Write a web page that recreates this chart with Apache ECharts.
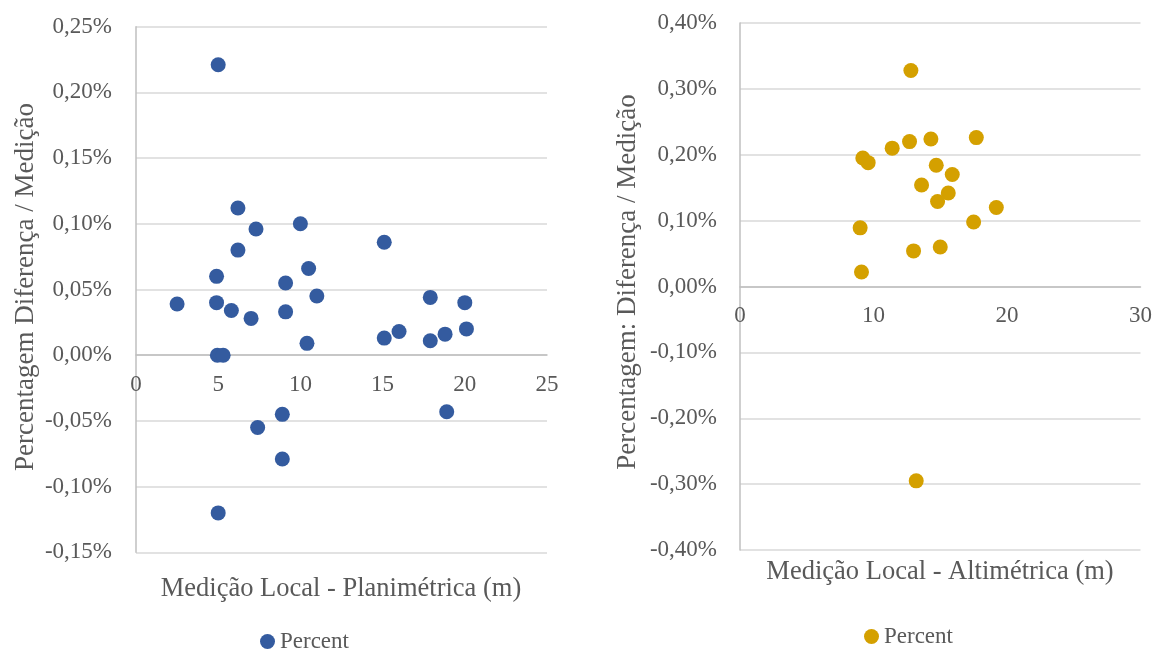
<!DOCTYPE html>
<html>
<head>
<meta charset="utf-8">
<script src="https://cdn.jsdelivr.net/npm/echarts@6/dist/echarts.min.js"></script>
<style>
html,body{margin:0;padding:0;background:#fff;}
#chart{width:1155px;height:650px;}
</style>
</head>
<body>
<div id="chart"></div>
<script>
// Planimétrica (left chart)
const planX = [5, 6.2, 7.3, 10, 6.2, 15.1, 10.5, 4.9, 9.1, 11, 2.5, 4.9, 5.8, 7, 9.1, 17.9, 20, 10.4, 15.1, 16, 17.9, 18.8, 20.1, 4.95, 5.3, 8.9, 7.4, 8.9, 18.9, 5];
const planY = [0.221, 0.112, 0.096, 0.100, 0.080, 0.086, 0.066, 0.060, 0.055, 0.045, 0.039, 0.040, 0.034, 0.028, 0.033, 0.044, 0.040, 0.009, 0.013, 0.018, 0.011, 0.016, 0.020, 0, 0, -0.045, -0.055, -0.079, -0.043, -0.120];
// Altimétrica (right chart)
const altX = [12.8, 11.4, 12.7, 14.3, 17.7, 9.2, 9.6, 14.7, 15.9, 13.6, 15.6, 14.8, 19.2, 17.5, 9.0, 13.0, 15.0, 9.1, 13.2];
const altY = [0.328, 0.210, 0.220, 0.224, 0.226, 0.195, 0.188, 0.184, 0.170, 0.154, 0.142, 0.129, 0.120, 0.098, 0.089, 0.054, 0.060, 0.022, -0.295];

const seriesName = 'Percent';
const leftXTitle = 'Medição Local - Planimétrica (m)';
const leftYTitle = 'Percentagem Diferença / Medição';
const rightXTitle = 'Medição Local - Altimétrica (m)';
const rightYTitle = 'Percentagem: Diferença / Medição';

const FONT = '"Liberation Serif", "Times New Roman", serif';
const TXT = '#595959';
const pct = v => (Math.round(v * 100) / 100).toFixed(2).replace('.', ',') + '%';
const zip = (xs, ys) => xs.map((x, i) => [x, ys[i]]);

const grids = [
  { left: 136, top: 26.7, width: 411, height: 525.6 },
  { left: 740, top: 23, width: 402, height: 527 }
];
const yRanges = [
  { min: -0.15, max: 0.25, interval: 0.05 },
  { min: -0.4, max: 0.4, interval: 0.1 }
];
// distance (px) from the bottom of each grid up to the zero line, so the x axis sits at y = 0
const zeroOffset = i => -((0 - yRanges[i].min) / (yRanges[i].max - yRanges[i].min)) * grids[i].height;

const chart = echarts.init(document.getElementById('chart'));
const xAxisBase = {
  type: 'value',
  position: 'bottom',
  axisLine: { show: true, onZero: false, lineStyle: { color: '#BFBFBF', width: 1.5 } },
  axisTick: { show: false },
  splitLine: { show: false },
  axisLabel: { color: TXT, fontFamily: FONT, fontSize: 23, margin: 18 }
};
const yAxisBase = {
  type: 'value',
  axisLine: { show: true, lineStyle: { color: '#BFBFBF', width: 1.5 } },
  axisTick: { show: false },
  splitLine: { show: true, lineStyle: { color: '#D9D9D9', width: 1.5 } },
  axisLabel: { color: TXT, fontFamily: FONT, fontSize: 23, margin: 24, formatter: pct }
};

chart.setOption({
  animation: false,
  backgroundColor: '#fff',
  grid: grids,
  xAxis: [
    Object.assign({}, xAxisBase, { gridIndex: 0, min: 0, max: 25, interval: 5, offset: zeroOffset(0) }),
    Object.assign({}, xAxisBase, { gridIndex: 1, min: 0, max: 30, interval: 10, offset: zeroOffset(1) })
  ],
  yAxis: [
    Object.assign({}, yAxisBase, { gridIndex: 0 }, yRanges[0]),
    Object.assign({}, yAxisBase, { gridIndex: 1 }, yRanges[1], { axisLabel: Object.assign({}, yAxisBase.axisLabel, { margin: 23 }) })
  ],
  legend: [
    { data: ['Percent A'], left: 255, top: 625, icon: 'circle', itemWidth: 15, itemHeight: 15,
      formatter: () => seriesName, textStyle: { color: TXT, fontFamily: FONT, fontSize: 23 } },
    { data: ['Percent B'], left: 859, top: 620, icon: 'circle', itemWidth: 15, itemHeight: 15,
      formatter: () => seriesName, textStyle: { color: TXT, fontFamily: FONT, fontSize: 23 } }
  ],
  series: [
    { name: 'Percent A', type: 'scatter', xAxisIndex: 0, yAxisIndex: 0, symbolSize: 15,
      itemStyle: { color: '#345B9F', opacity: 1 }, data: zip(planX, planY) },
    { name: 'Percent B', type: 'scatter', xAxisIndex: 1, yAxisIndex: 1, symbolSize: 15,
      itemStyle: { color: '#D4A000', opacity: 1 }, data: zip(altX, altY) }
  ],
  graphic: [
    { type: 'text', x: 341, y: 589, style: { text: leftXTitle, font: '26.5px ' + FONT, fill: TXT, align: 'center', verticalAlign: 'middle' } },
    { type: 'text', x: 940, y: 572, style: { text: rightXTitle, font: '26.5px ' + FONT, fill: TXT, align: 'center', verticalAlign: 'middle' } },
    { type: 'text', x: 26, y: 287, rotation: Math.PI / 2, style: { text: leftYTitle, font: '27px ' + FONT, fill: TXT, align: 'center', verticalAlign: 'middle' } },
    { type: 'text', x: 628, y: 282, rotation: Math.PI / 2, style: { text: rightYTitle, font: '27px ' + FONT, fill: TXT, align: 'center', verticalAlign: 'middle' } }
  ]
});
</script>
</body>
</html>
